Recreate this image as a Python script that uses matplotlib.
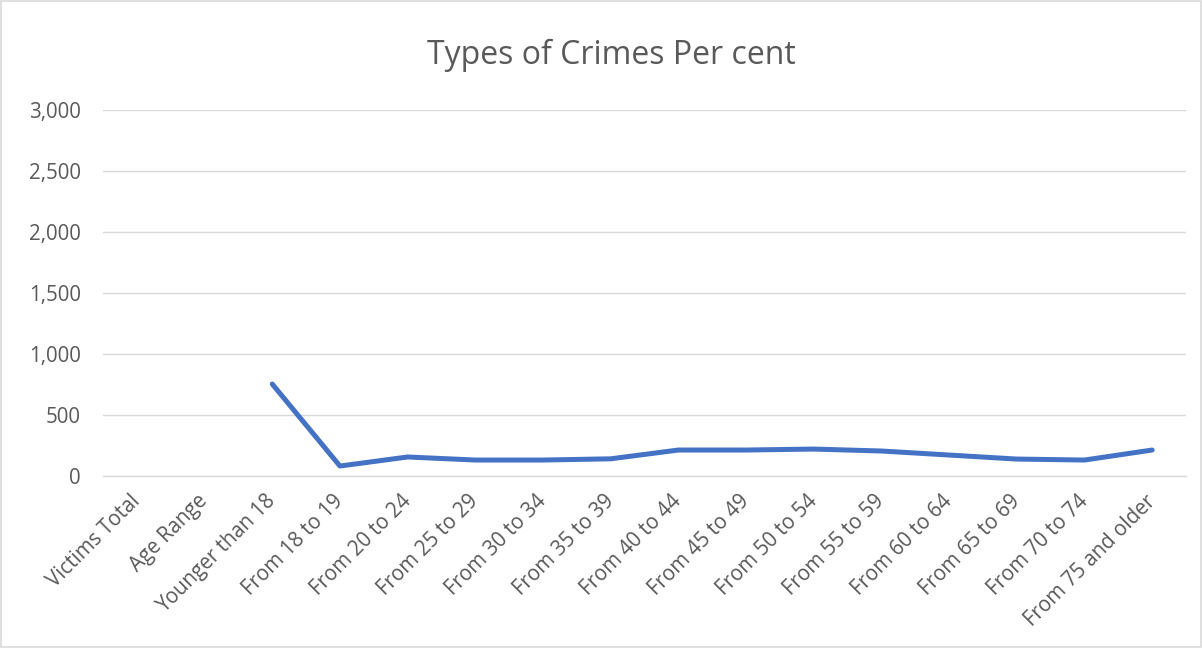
import matplotlib.pyplot as plt
from matplotlib.patches import Rectangle

# categories along the x axis
categories = ["Victims Total", "Age Range", "Younger than 18", "From 18 to 19",
              "From 20 to 24", "From 25 to 29", "From 30 to 34", "From 35 to 39",
              "From 40 to 44", "From 45 to 49", "From 50 to 54", "From 55 to 59",
              "From 60 to 64", "From 65 to 69", "From 70 to 74", "From 75 and older"]

# values (first two categories have no data)
values = [None, None, 754, 82, 156, 131, 131, 141, 213, 213, 221, 205, 172, 139, 131, 213]

y_ticks = [0, 500, 1000, 1500, 2000, 2500, 3000]

text_color = "#595959"
grid_color = "#D9D9D9"
line_color = "#4472C4"

plt.rcParams['font.family'] = ['Open Sans', 'DejaVu Sans']

fig = plt.figure(figsize=(12.02, 6.48), dpi=100)
ax = fig.add_axes([0.0857, 0.2654, 0.9010, 0.5648])

xs = [i for i, v in enumerate(values) if v is not None]
ys = [v for v in values if v is not None]
ax.plot(xs, ys, color=line_color, linewidth=3.6, solid_capstyle="round",
        solid_joinstyle="round")

ax.set_xlim(-0.5, len(categories) - 0.5)
ax.set_ylim(0, 3000)
ax.set_yticks(y_ticks)
ax.set_yticklabels([f"{t:,}" for t in y_ticks])
ax.set_xticks(range(len(categories)))
ax.set_xticklabels(categories, rotation=45, ha="right", va="center",
                   rotation_mode="anchor")

ax.tick_params(axis="both", length=0, colors=text_color, labelsize=14.8)
ax.tick_params(axis="y", pad=16)
ax.tick_params(axis="x", pad=16)
ax.grid(axis="y", color=grid_color, linewidth=1)
ax.set_axisbelow(True)
for side in ["top", "right", "left"]:
    ax.spines[side].set_visible(False)
ax.spines["bottom"].set_color(grid_color)
ax.spines["bottom"].set_linewidth(1)

fig.text(0.509, 0.915, "Types of Crimes Per cent", ha="center", va="center",
         fontsize=23, color=text_color)

fig.patches.append(Rectangle((0.001, 0.001), 0.998, 0.997, transform=fig.transFigure,
                             fill=False, edgecolor=grid_color, linewidth=1.2))

fig.savefig("out.png", dpi=100)
